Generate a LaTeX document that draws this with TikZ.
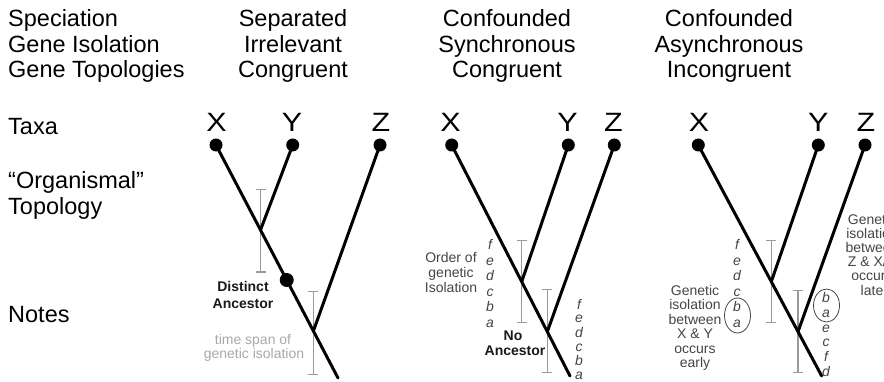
\documentclass[tikz,border=0pt]{standalone}
\usepackage{fontspec}
\setmainfont{Liberation Sans}
\usetikzlibrary{arrows.meta}
\definecolor{notegray}{HTML}{444444}
\definecolor{spangray}{HTML}{9A9A9A}
\definecolor{faintgray}{HTML}{A8A8A8}
\begin{document}
\begin{tikzpicture}[x=1pt,y=-1pt,
  lab/.style={anchor=base west,inner sep=0pt,font=\fontsize{23.5}{26}\selectfont},
  hdr/.style={anchor=base,inner sep=0pt,font=\fontsize{23.5}{26}\selectfont},
  taxon/.style={anchor=base,inner sep=0pt,font=\fontsize{26.5}{26}\selectfont},
  note/.style={anchor=base,inner sep=0pt,font=\fontsize{14}{14}\selectfont,text=notegray},
  boldnote/.style={anchor=base,inner sep=0pt,font=\fontsize{14}{14}\selectfont\bfseries,text=black!90},
  faint/.style={anchor=base,inner sep=0pt,font=\fontsize{14}{14}\selectfont,text=faintgray},
  gl/.style={anchor=base,inner sep=0pt,font=\fontsize{14}{14}\selectfont\itshape,text=notegray},
  taxdot/.style={circle,fill=black,inner sep=0pt,minimum size=13pt},
  ancdot/.style={circle,fill=black,inner sep=0pt,minimum size=14pt},
  branch/.style={line width=3pt,line cap=round},
  spanbar/.style={draw=spangray,line width=1.5pt,{Bar[width=10pt,line width=1.5pt]}-{Bar[width=10pt,line width=1.5pt]}},
  grp/.style={draw=notegray,line width=0.8pt}
]
\useasboundingbox (0,0) rectangle (884,382);

% ---------- row labels ----------
\node[lab] (rl1) at (8,27) {Speciation};
\node[lab] (rl2) at (8,52.5) {Gene Isolation};
\node[lab] (rl3) at (8,78) {Gene Topologies};
\node[lab] (rl4) at (8,135) {Taxa};
\node[lab] (rl5) at (8,189) {“Organismal”};
\node[lab] (rl6) at (8,215) {Topology};
\node[lab] (rl7) at (8,322.5) {Notes};

% ---------- headers ----------
\node[hdr] (h1a) at (293,27) {Separated};
\node[hdr] (h1b) at (293,52.5) {Irrelevant};
\node[hdr] (h1c) at (293,78) {Congruent};
\node[hdr] (h2a) at (507,27) {Confounded};
\node[hdr] (h2b) at (507,52.5) {Synchronous};
\node[hdr] (h2c) at (507,78) {Congruent};
\node[hdr] (h3a) at (729,27) {Confounded};
\node[hdr] (h3b) at (729,52.5) {Asynchronous};
\node[hdr] (h3c) at (729,78) {Incongruent};

% ---------- taxa letters ----------
\foreach \nm/\xx/\lt in {t1X/216.5/X, t1Y/292/Y, t1Z/381/Z,
                         t2X/450.5/X, t2Y/567.5/Y, t2Z/613.5/Z,
                         t3X/699/X, t3Y/818.3/Y, t3Z/866/Z}
  \node[taxon] (\nm) at (\xx,131.7) {\scalebox{1.15}[1]{\lt}};

% ================= Panel 1 =================
\draw[spanbar] (260.5,189) -- (260.5,273);
\draw[spanbar] (313.4,291) -- (313.4,375);
\node[taxdot] (aX) at (216,145) {};
\node[taxdot] (aY) at (292.7,145) {};
\node[taxdot] (aZ) at (380,145) {};
\coordinate (aJ1) at (260.5,230);
\coordinate (aJ2) at (313.4,331);
\coordinate (aE) at (338,378);
\draw[branch] (aX.center) -- (aE);
\draw[branch] (aY.center) -- (aJ1);
\draw[branch] (aZ.center) -- (aJ2);
\node[ancdot] (aA) at (286.7,280) {};
\node[boldnote] (n1a) at (243,291.7) {Distinct};
\node[boldnote] (n1b) at (243,308.3) {Ancestor};
\node[faint] (n1c) at (253,344) {time span of};
\node[faint] (n1d) at (254,358.5) {genetic isolation};

% ================= Panel 2 =================
\draw[spanbar] (521.7,240) -- (521.7,323);
\draw[spanbar] (547.3,289) -- (547.3,373);
\node[taxdot] (bX) at (451.7,145) {};
\node[taxdot] (bY) at (568.3,145) {};
\node[taxdot] (bZ) at (614.3,145) {};
\coordinate (bJ1) at (521.7,281.7);
\coordinate (bJ2) at (547.3,331.7);
\coordinate (bE) at (570,376);
\draw[branch] (bX.center) -- (bE);
\draw[branch] (bY.center) -- (bJ1);
\draw[branch] (bZ.center) -- (bJ2);
\foreach \lt [count=\k from 0] in {f,e,d,c,b,a}
  \node[gl] (bl\k) at (490,{249.5+15.6*\k}) {\lt};
\foreach \lt [count=\k from 0] in {f,e,d,c,b,a}
  \node[gl] (br\k) at (579,{309+14*\k}) {\lt};
\node[note] (n2a) at (451,263) {Order of};
\node[note] (n2b) at (451,278) {genetic};
\node[note] (n2c) at (451,293) {Isolation};
\node[boldnote] (n2d) at (513,340) {No};
\node[boldnote] (n2e) at (515,355) {Ancestor};

% ================= Panel 3 =================
\draw[spanbar] (771.3,240) -- (771.3,323);
\draw[spanbar] (798,290) -- (798,373);
\node[taxdot] (cX) at (698.3,145) {};
\node[taxdot] (cY) at (818.3,145) {};
\node[taxdot] (cZ) at (865,145) {};
\coordinate (cJ1) at (771.3,281.7);
\coordinate (cJ2) at (798,331.7);
\coordinate (cE) at (821.7,376);
\draw[branch] (cX.center) -- (cE);
\draw[branch] (cY.center) -- (cJ1);
\draw[branch] (cZ.center) -- (cJ2);
\foreach \lt [count=\k from 0] in {f,e,d,c,b,a}
  \node[gl] (cl\k) at (737,{249.5+15.6*\k}) {\lt};
\foreach \lt [count=\k from 0] in {b,a,e,c,f,d}
  \node[gl] (cr\k) at (826,{302.5+14.8*\k}) {\lt};
\draw[grp] (737.5,315.5) ellipse [x radius=13, y radius=17.5];
\draw[grp] (826.5,305.5) ellipse [x radius=13, y radius=16.5];
\foreach \tx [count=\k from 0] in {Genetic,isolation,between,X \& Y,occurs,early}
  \node[note] (cn\k) at (695,{295+14.5*\k}) {\tx};
\foreach \tx [count=\k from 0] in {Genetic,isolation,between,Z \& X/Y,occurs,late}
  \node[note] (cm\k) at (872,{225+14*\k}) {\tx};
\end{tikzpicture}
\end{document}
